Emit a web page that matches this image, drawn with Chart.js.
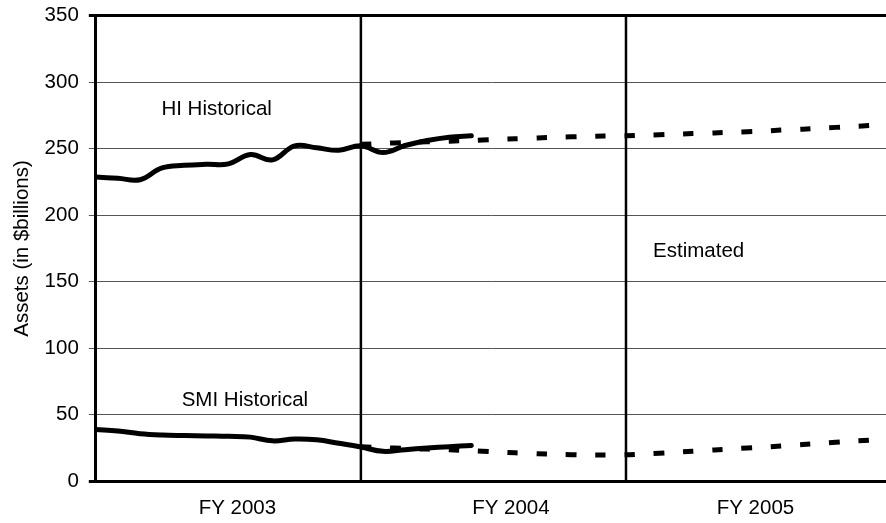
<!DOCTYPE html>
<html>
<head>
<meta charset="utf-8">
<script src="https://cdn.jsdelivr.net/npm/chart.js@4"></script>
<style>
  body { margin: 0; background: #fff; }
  #wrap { width: 886px; height: 523px; position: relative; }
</style>
</head>
<body>
<div id="wrap"><canvas id="chart"></canvas></div>
<script>
// months counted from the start of FY 2003 (0 = Oct 2002)
const historicalMonths = [0, 1, 2, 3, 4, 5, 6, 7, 8, 9, 10, 11, 12, 13, 14, 15, 16, 17];
const hiHistorical = [228.7, 227.8, 226.7, 235.6, 237.5, 238.3, 238.6, 245.6, 241.6, 252.2, 250.7, 248.8, 252.2, 247.1, 252.4, 256.2, 258.7, 259.7];
const smiHistorical = [39.0, 37.8, 35.8, 34.8, 34.4, 34.1, 33.8, 33.2, 30.4, 31.8, 31.2, 28.6, 25.8, 22.5, 23.8, 25.0, 26.0, 27.0];

const estimatedMonths = [12, 13, 14, 15, 16, 17, 18, 19, 20, 21, 22, 23, 24, 25, 26, 27, 28, 29, 30, 31, 32, 33, 34, 35, 36];
const hiEstimated = [253.3, 254.0, 254.7, 255.2, 255.7, 256.2, 256.9, 257.5, 258.1, 258.7, 259.1, 259.5, 259.8, 260.2, 260.8, 261.4, 261.9, 262.5, 263.1, 264.0, 264.7, 265.6, 266.5, 267.4, 268.3];
const smiEstimated = [26.0, 25.3, 24.7, 24.2, 23.7, 23.0, 22.2, 21.4, 20.7, 20.2, 19.9, 19.7, 19.9, 20.7, 21.5, 22.6, 23.6, 24.6, 25.5, 26.5, 27.7, 28.8, 30.0, 30.9, 31.8];

const fyLabels = ['FY 2003', 'FY 2004', 'FY 2005'];
const fyTickMonths = [6.41, 18.79, 29.86];
const yearDividers = [12, 24];

const noteTexts = ['HI Historical', 'SMI Historical', 'Estimated'];
const noteMonths = [5.47, 6.75, 27.29];
const noteValues = [279.9, 61.1, 172.6];

const FONT = { family: '"Liberation Sans", Arial, sans-serif', size: 20.5 };

function points(xs, ys) {
    return xs.map((x, i) => ({ x: x, y: ys[i] }));
}

const extras = {
    id: 'extras',
    beforeDatasetsDraw(chart) {
        const { ctx, chartArea, scales: { x } } = chart;
        ctx.save();
        ctx.strokeStyle = '#000';
        ctx.lineWidth = 2.5;
        yearDividers.forEach(m => {
            const px = x.getPixelForValue(m);
            ctx.beginPath();
            ctx.moveTo(px, chartArea.top);
            ctx.lineTo(px, chartArea.bottom);
            ctx.stroke();
        });
        ctx.restore();
    },
    afterDatasetsDraw(chart) {
        const { ctx, scales: { x, y } } = chart;
        ctx.save();
        ctx.fillStyle = '#000';
        ctx.font = `${FONT.size}px ${FONT.family}`;
        ctx.textAlign = 'center';
        ctx.textBaseline = 'middle';
        noteTexts.forEach((t, i) => {
            ctx.fillText(t, x.getPixelForValue(noteMonths[i]), y.getPixelForValue(noteValues[i]));
        });
        ctx.restore();
    }
};

new Chart(document.getElementById('chart'), {
    type: 'line',
    data: {
        datasets: [
            {
                label: 'HI Historical',
                data: points(historicalMonths, hiHistorical),
                borderColor: '#000',
                borderWidth: 5,
                borderCapStyle: 'round',
                tension: 0.4,
                pointRadius: 0,
            },
            {
                label: 'SMI Historical',
                data: points(historicalMonths, smiHistorical),
                borderColor: '#000',
                borderWidth: 5,
                borderCapStyle: 'round',
                tension: 0.4,
                pointRadius: 0,
            },
            {
                label: 'HI Estimated',
                data: points(estimatedMonths, hiEstimated),
                borderColor: '#000',
                borderWidth: 5,
                borderDash: [10.5, 18.8],
                tension: 0.3,
                pointRadius: 0,
            },
            {
                label: 'SMI Estimated',
                data: points(estimatedMonths, smiEstimated),
                borderColor: '#000',
                borderWidth: 5,
                borderDash: [10.5, 18.8],
                tension: 0.3,
                pointRadius: 0,
            },
        ]
    },
    options: {
        responsive: true,
        maintainAspectRatio: false,
        animation: false,
        layout: { padding: { top: 15.7, left: 0, right: 0, bottom: 0 } },
        scales: {
            x: {
                type: 'linear',
                min: 0,
                max: 35.77,
                afterFit: (scale) => {
                    scale.height = 41.7;
                    scale.paddingLeft = 0;
                    scale.paddingRight = 0;
                },
                afterBuildTicks: (scale) => {
                    scale.ticks = fyTickMonths.map(v => ({ value: v }));
                },
                ticks: {
                    autoSkip: false,
                    maxRotation: 0,
                    padding: 15,
                    color: '#000',
                    font: FONT,
                    callback: function (value, index) {
                        return fyLabels[index];
                    }
                },
                grid: { display: false, drawTicks: false },
                border: { display: true, color: '#000', width: 3 },
            },
            y: {
                min: 0,
                max: 350,
                afterFit: (scale) => {
                    scale.width = 95.8;
                    scale.paddingTop = 0;
                    scale.paddingBottom = 0;
                },
                ticks: {
                    stepSize: 50,
                    padding: 10,
                    color: '#000',
                    font: FONT,
                },
                grid: {
                    tickLength: 7,
                    color: (c) => (c.tick && (c.tick.value === 350 || c.tick.value === 0)) ? '#000' : '#555',
                    lineWidth: (c) => (c.tick && (c.tick.value === 350 || c.tick.value === 0)) ? 3 : 1,
                },
                border: { display: true, color: '#000', width: 3 },
                title: {
                    display: true,
                    text: 'Assets (in $billions)',
                    color: '#000',
                    font: FONT,
                    padding: { top: 10, bottom: 4 },
                },
            },
        },
        plugins: {
            legend: { display: false },
            tooltip: { enabled: false },
        },
    },
    plugins: [extras],
});
</script>
</body>
</html>
